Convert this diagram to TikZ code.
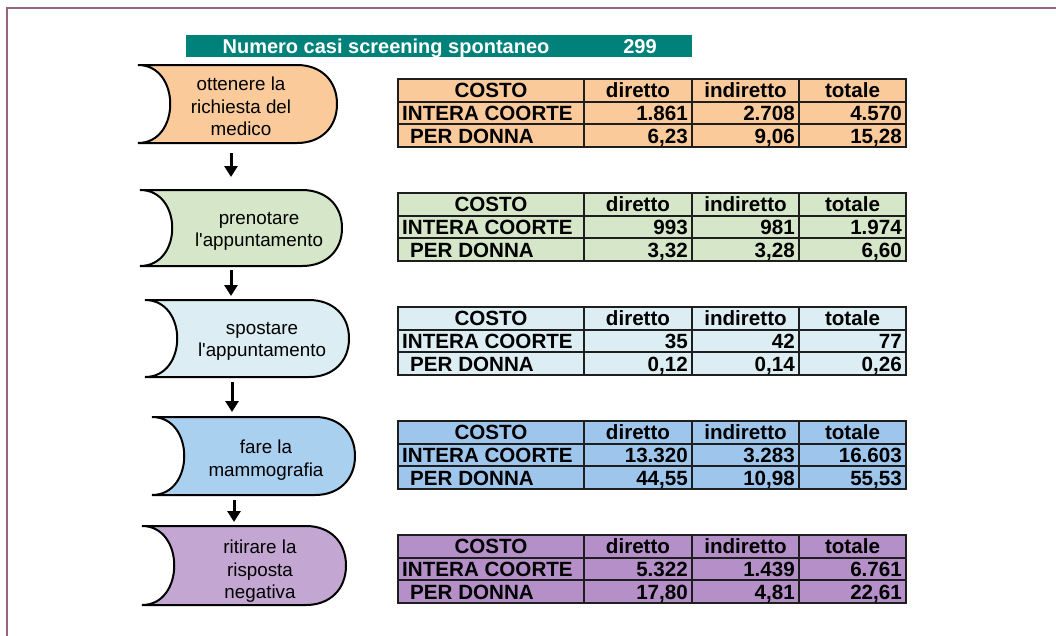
\documentclass[tikz,border=0pt]{standalone}
\usepackage{fontspec}
\setmainfont{Liberation Sans}
\usetikzlibrary{arrows.meta}
\definecolor{frameC}{RGB}{150,100,125}
\definecolor{tealC}{RGB}{0,130,122}
\definecolor{cOr}{RGB}{250,202,155}
\definecolor{cGr}{RGB}{214,230,200}
\definecolor{cCy}{RGB}{220,238,243}
\definecolor{cBlS}{RGB}{170,208,240}
\definecolor{cBlT}{RGB}{158,198,236}
\definecolor{cPuS}{RGB}{196,166,210}
\definecolor{cPuT}{RGB}{180,143,200}
\definecolor{lineC}{RGB}{30,30,30}
\tikzset{
  tline/.style={draw=lineC, line width=2},
  shapeline/.style={draw=black, line width=2},
  cell/.style={inner sep=0pt, text height=14.6pt, text depth=0pt, font=\fontsize{20.6}{22}\selectfont\bfseries},
  stext/.style={inner sep=0pt, align=center, font=\fontsize{18.8}{22.5}\selectfont},
  ttext/.style={inner sep=0pt, text=white, text height=14.2pt, text depth=0pt, font=\fontsize{20}{22}\selectfont\bfseries},
  flowarrow/.style={line width=3, -{Triangle[length=11pt,width=13pt]}}
}
\newcommand\costtable[9]{%
  \fill[#2] (398,#1) rectangle (906,#1+68);
  \draw[tline] (398,#1) rectangle (906,#1+68);
  \draw[tline] (398,#1+22.7) -- (906,#1+22.7) (398,#1+45.3) -- (906,#1+45.3);
  \draw[tline] (584,#1) -- (584,#1+68) (692,#1) -- (692,#1+68) (799,#1) -- (799,#1+68);
  \node[cell] (#3h0) at (491,#1+11.3) {COSTO};
  \node[cell] (#3h1) at (638,#1+11.3) {diretto};
  \node[cell] (#3h2) at (745.5,#1+11.3) {indiretto};
  \node[cell] (#3h3) at (852.5,#1+11.3) {totale};
  \node[cell,anchor=west] (#3r1) at (402,#1+34) {INTERA COORTE};
  \node[cell,anchor=east] (#3a1) at (688,#1+34) {#4};
  \node[cell,anchor=east] (#3b1) at (795,#1+34) {#5};
  \node[cell,anchor=east] (#3c1) at (902,#1+34) {#6};
  \node[cell,anchor=west] (#3r2) at (410,#1+56.8) {PER DONNA};
  \node[cell,anchor=east] (#3a2) at (688,#1+56.8) {#7};
  \node[cell,anchor=east] (#3b2) at (795,#1+56.8) {#8};
  \node[cell,anchor=east] (#3c2) at (902,#1+56.8) {#9};
}
\newcommand\flowshape[9]{%
  \pgfmathsetmacro\fsM{(#3+#4)/2}
  \pgfmathsetmacro\fsH{(#4-#3)/2}
  \pgfmathsetmacro\fsA{\fsM-0.6*\fsH}
  \pgfmathsetmacro\fsB{\fsM+0.6*\fsH}
  \pgfmathsetmacro\fsT{\fsM+#9}
  \path[shapeline, fill=#5] (#1,#3) -- ({#2-40},#3)
     .. controls ({#2-16},#3) and (#2,\fsA) .. (#2,\fsM)
     .. controls (#2,\fsB) and ({#2-16},#4) .. ({#2-40},#4)
     -- (#1,#4)
     .. controls ({#1+43},#4) and ({#1+43},#3) .. cycle;
  \node[stext] (#6) at (#7,\fsT) {#8};
}
\begin{document}
\begin{tikzpicture}[x=1pt,y=-1pt]
\useasboundingbox (0,0) rectangle (1056,635);
\fill[white] (0,0) rectangle (1056,635);
\draw[frameC, line width=2] (7,636) -- (7,8) -- (1057,8);
% title bar
\fill[tealC] (186,35) rectangle (692,57);
\node[ttext] (title) at (386,46) {Numero casi screening spontaneo};
\node[ttext] (n299) at (640,46) {299};
% shapes
\flowshape{138}{337}{65}{143}{cOr}{s1}{241}{ottenere la\\richiesta del\\medico}{2.5}
\flowshape{140}{342}{190}{266}{cGr}{s2}{259}{prenotare\\l\textquotesingle appuntamento}{3.5}
\flowshape{145}{349}{300}{377}{cCy}{s3}{262}{spostare\\l\textquotesingle appuntamento}{3}
\flowshape{152}{355}{417}{495}{cBlS}{s4}{266}{fare la\\mammografia}{4}
\flowshape{142}{346}{526}{605}{cPuS}{s5}{260}{ritirare la\\risposta\\negativa}{6}
% arrows
\coordinate (a1s) at (231,153); \coordinate (a1e) at (231,177);
\coordinate (a2s) at (231,270); \coordinate (a2e) at (231,296);
\coordinate (a3s) at (232,382); \coordinate (a3e) at (232,412);
\coordinate (a4s) at (234,500); \coordinate (a4e) at (234,522);
\draw[flowarrow] (a1s) -- (a1e);
\draw[flowarrow] (a2s) -- (a2e);
\draw[flowarrow] (a3s) -- (a3e);
\draw[flowarrow] (a4s) -- (a4e);
% tables
\costtable{79}{cOr}{ta}{1.861}{2.708}{4.570}{6,23}{9,06}{15,28}
\costtable{193}{cGr}{tb}{993}{981}{1.974}{3,32}{3,28}{6,60}
\costtable{307}{cCy}{tc}{35}{42}{77}{0,12}{0,14}{0,26}
\costtable{421}{cBlT}{td}{13.320}{3.283}{16.603}{44,55}{10,98}{55,53}
\costtable{535}{cPuT}{te}{5.322}{1.439}{6.761}{17,80}{4,81}{22,61}
\end{tikzpicture}
\end{document}
